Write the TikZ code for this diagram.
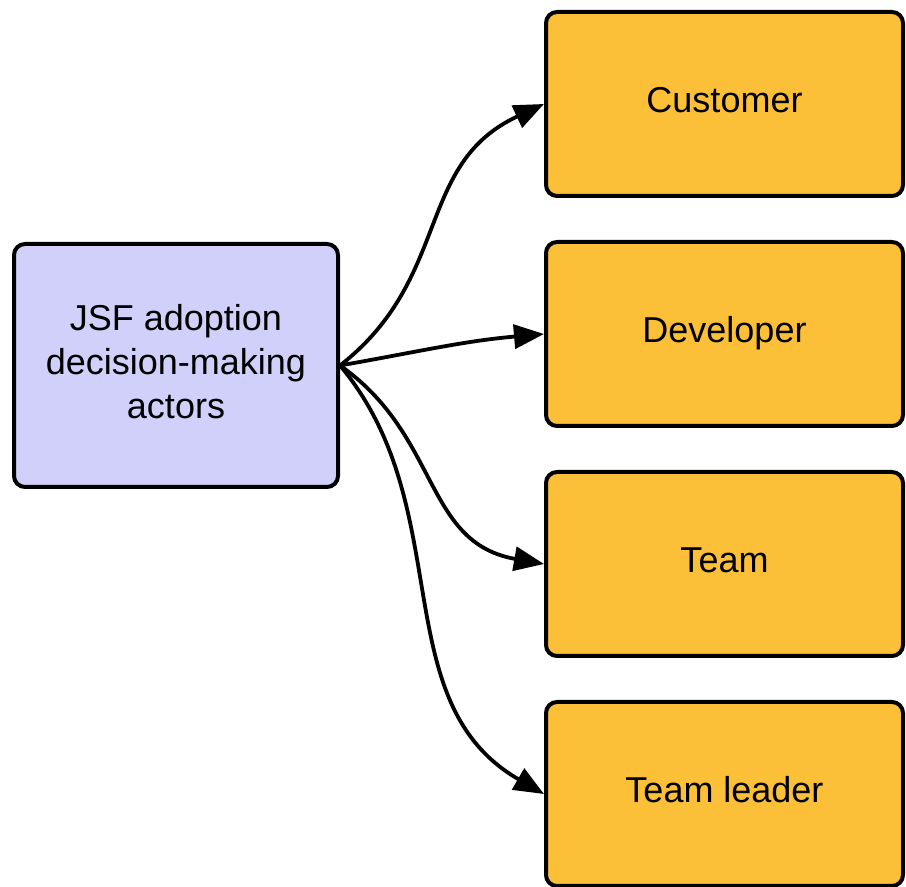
\documentclass[tikz,border=0pt]{standalone}
\usepackage{fontspec}
\setmainfont{Liberation Sans}
\usetikzlibrary{arrows.meta}
\definecolor{rootfill}{RGB}{208,208,250}
\definecolor{actorfill}{RGB}{251,192,56}
\begin{document}
\begin{tikzpicture}
      [x=1pt,y=1pt,
      box/.style={draw=black,line width=4pt,rounded corners=11pt,
        align=center,font=\fontsize{36}{44}\selectfont,inner sep=0pt},
      root/.style={box,fill=rootfill,minimum width=324pt,minimum height=243pt,
        text depth=9pt},
      actor/.style={box,fill=actorfill,minimum width=357pt,minimum height=184pt,
        text height=26pt,text depth=8pt},
      link/.style={line width=3.8pt,-{Triangle[length=30pt,width=24pt]}}]
      \useasboundingbox (0,0) rectangle (906,887);
      \node[root] (jsf) at (176,521.5) {JSF adoption\\decision-making\\actors};
      \node[actor] (customer) at (724.5,783) {Customer};
      \node[actor] (developer) at (724.5,553) {Developer};
      \node[actor] (team) at (724.5,323) {Team};
      \node[actor] (leader) at (724.5,93) {Team leader};
      % connectors
      \draw[link] (jsf.east) to[out=38,in=205,looseness=1.1] (customer.west);
      \draw[link] (jsf.east) to[out=10,in=185] (developer.west);
      \draw[link] (jsf.east) to[out=-35,in=170,looseness=1.1] (team.west);
      \draw[link] (jsf.east) to[out=-50,in=150] (leader.west);
    \end{tikzpicture}
\end{document}
